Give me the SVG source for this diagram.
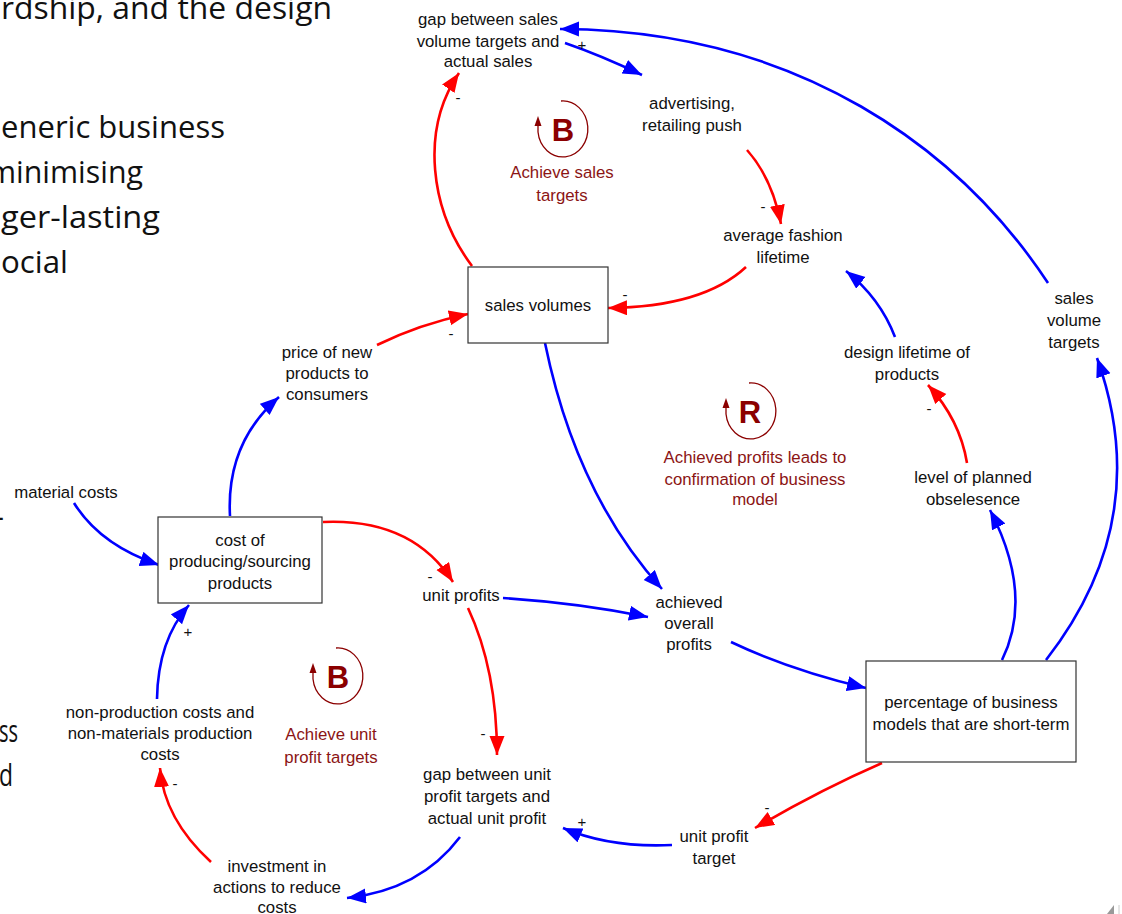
<svg xmlns="http://www.w3.org/2000/svg" xmlns:xlink="http://www.w3.org/1999/xlink" width="1122" height="914" viewBox="0 0 1122 914">
<style>
.bg{font-family:"Open Sans","Liberation Sans",sans-serif;font-size:31px;fill:#111}
.t{font-family:"Liberation Sans",Arial,sans-serif;font-size:16.8px;fill:#111;text-anchor:middle}
.sg{font-family:"Liberation Sans",Arial,sans-serif;font-size:15px;fill:#111;text-anchor:middle}
.lt{font-family:"Liberation Sans",Arial,sans-serif;font-size:16.8px;fill:#8B1414;text-anchor:middle}
.ll{font-family:"Liberation Sans",Arial,sans-serif;font-size:31px;font-weight:bold;fill:#8B0000;text-anchor:middle}
.box{fill:#fff;stroke:#333;stroke-width:1.2}
.b{fill:none;stroke:#0000FF;stroke-width:2.6;marker-end:url(#ab)}
.r{fill:none;stroke:#FF0000;stroke-width:2.6;marker-end:url(#ar)}
</style>
<defs>
<marker id="ab" markerUnits="userSpaceOnUse" markerWidth="22" markerHeight="16" refX="19" refY="7.5" orient="auto"><path d="M0,0 L19,7.5 L0,15 z" fill="#0000FF"/></marker>
<marker id="ar" markerUnits="userSpaceOnUse" markerWidth="22" markerHeight="16" refX="19" refY="7.5" orient="auto"><path d="M0,0 L19,7.5 L0,15 z" fill="#FF0000"/></marker>
<g id="loop">
<path d="M-2,-28 A25,28 0 1 1 -25,3 L-25,-3" fill="none" stroke="#8B0000" stroke-width="1.3"/>
<path d="M-25,-13 L-28.5,-3 L-21.5,-3 z" fill="#8B0000"/>
</g>
</defs>
<rect width="1122" height="914" fill="#fff"/>
<g id="slide-text">
<text class="bg" x="1" y="19" textLength="331" lengthAdjust="spacingAndGlyphs">rdship, and the design</text>
<text class="bg" x="1" y="138" textLength="224" lengthAdjust="spacingAndGlyphs">eneric business</text>
<text class="bg" x="-12" y="183" textLength="155" lengthAdjust="spacingAndGlyphs">minimising</text>
<text class="bg" x="1" y="228" textLength="159" lengthAdjust="spacingAndGlyphs">ger-lasting</text>
<text class="bg" x="1" y="273" textLength="67" lengthAdjust="spacingAndGlyphs">ocial</text>
<text class="bg" x="-6" y="527">-</text>
<text class="bg" x="-1" y="742" textLength="19" lengthAdjust="spacingAndGlyphs">ss</text>
<text class="bg" x="-1" y="786" textLength="14" lengthAdjust="spacingAndGlyphs">d</text>
<polygon points="1107,914 1114,905 1114,914" fill="#999"/>
<line x1="1119" y1="905" x2="1119" y2="914" stroke="#ccc" stroke-width="1"/>
</g>
<g id="connectors">
<path class="b" d="M565,43 Q600,55 642,75"/>
<path class="r" d="M747,150 Q772,178 781,224"/>
<path class="r" d="M746,267 Q703,307 608,308"/>
<path class="r" d="M472,266 C430,210 420,130 459,73"/>
<path class="b" d="M1048,283 C960,150 800,30 560,29"/>
<path class="b" d="M1046,660 Q1155,520 1097,358"/>
<path class="b" d="M1002,660 Q1034,595 990,510"/>
<path class="r" d="M967,463 Q960,420 928,385"/>
<path class="b" d="M895,337 Q880,298 846,271"/>
<path class="b" d="M545,343 Q576,494 662,589"/>
<path class="b" d="M503,598 Q580,603 648,617"/>
<path class="b" d="M731,642 Q790,670 866,688"/>
<path class="r" d="M323,522 Q412,518 453,582"/>
<path class="b" d="M230,516 Q226,443 279,397"/>
<path class="r" d="M377,345 Q420,324 468,314"/>
<path class="b" d="M74,503 Q100,545 159,565"/>
<path class="b" d="M157,699 Q158,640 189,605"/>
<path class="r" d="M468,608 Q497,670 497,755"/>
<path class="b" d="M460,837 Q420,890 347,898"/>
<path class="r" d="M211,862 Q164,819 160,768"/>
<path class="b" d="M672,845 Q610,848 563,828"/>
<path class="r" d="M882,763 Q820,790 755,828"/>
<text class="sg" x="582" y="50">+</text>
<text class="sg" x="458" y="103">-</text>
<text class="sg" x="763" y="212">-</text>
<text class="sg" x="625" y="300">-</text>
<text class="sg" x="451" y="339">-</text>
<text class="sg" x="430" y="582">-</text>
<text class="sg" x="188" y="637">+</text>
<text class="sg" x="483" y="739">-</text>
<text class="sg" x="175" y="789">-</text>
<text class="sg" x="582" y="827">+</text>
<text class="sg" x="767" y="813">-</text>
<text class="sg" x="929" y="414">-</text>
</g>
<g id="gap-sales"><text class="t" x="488" y="25">gap between sales</text><text class="t" x="488" y="47">volume targets and</text><text class="t" x="488" y="67">actual sales</text></g>
<g id="advertising"><text class="t" x="692" y="109">advertising,</text><text class="t" x="692" y="131">retailing push</text></g>
<g id="avg-fashion"><text class="t" x="783" y="241">average fashion</text><text class="t" x="783" y="263">lifetime</text></g>
<g id="sales-volumes"><rect class="box" x="468" y="267" width="140" height="76"/><text class="t" x="538" y="311">sales volumes</text></g>
<g id="price"><text class="t" x="327" y="358">price of new</text><text class="t" x="327" y="379">products to</text><text class="t" x="327" y="400">consumers</text></g>
<g id="material"><text class="t" x="66" y="498">material costs</text></g>
<g id="cost"><rect class="box" x="158" y="517" width="164" height="86"/><text class="t" x="240" y="546">cost of</text><text class="t" x="240" y="567">producing/sourcing</text><text class="t" x="240" y="589">products</text></g>
<g id="unit-profits"><text class="t" x="461" y="601">unit profits</text></g>
<g id="achieved"><text class="t" x="689" y="608">achieved</text><text class="t" x="689" y="629">overall</text><text class="t" x="689" y="650">profits</text></g>
<g id="non-production"><text class="t" x="160" y="718">non-production costs and</text><text class="t" x="160" y="739">non-materials production</text><text class="t" x="160" y="760">costs</text></g>
<g id="gap-unit"><text class="t" x="487" y="780">gap between unit</text><text class="t" x="487" y="802">profit targets and</text><text class="t" x="487" y="824">actual unit profit</text></g>
<g id="investment"><text class="t" x="277" y="872">investment in</text><text class="t" x="277" y="893">actions to reduce</text><text class="t" x="277" y="913">costs</text></g>
<g id="unit-profit-target"><text class="t" x="714" y="842">unit profit</text><text class="t" x="714" y="864">target</text></g>
<g id="percentage"><rect class="box" x="866" y="661" width="210" height="101"/><text class="t" x="971" y="708">percentage of business</text><text class="t" x="971" y="730">models that are short-term</text></g>
<g id="planned"><text class="t" x="973" y="483">level of planned</text><text class="t" x="973" y="505">obselesence</text></g>
<g id="design-lifetime"><text class="t" x="907" y="358">design lifetime of</text><text class="t" x="907" y="380">products</text></g>
<g id="sales-targets"><text class="t" x="1074" y="304">sales</text><text class="t" x="1074" y="326">volume</text><text class="t" x="1074" y="348">targets</text></g>
<g id="loop-b1"><use xlink:href="#loop" href="#loop" transform="translate(563,129)"/><text class="ll" x="563" y="141">B</text><text class="lt" x="562" y="178">Achieve sales</text><text class="lt" x="562" y="201">targets</text></g>
<g id="loop-r"><use xlink:href="#loop" href="#loop" transform="translate(751,411)"/><text class="ll" x="750" y="423">R</text><text class="lt" x="755" y="463">Achieved profits leads to</text><text class="lt" x="755" y="485">confirmation of business</text><text class="lt" x="755" y="505">model</text></g>
<g id="loop-b2"><use xlink:href="#loop" href="#loop" transform="translate(338,676)"/><text class="ll" x="338" y="688">B</text><text class="lt" x="331" y="740">Achieve unit</text><text class="lt" x="331" y="763">profit targets</text></g>
</svg>
